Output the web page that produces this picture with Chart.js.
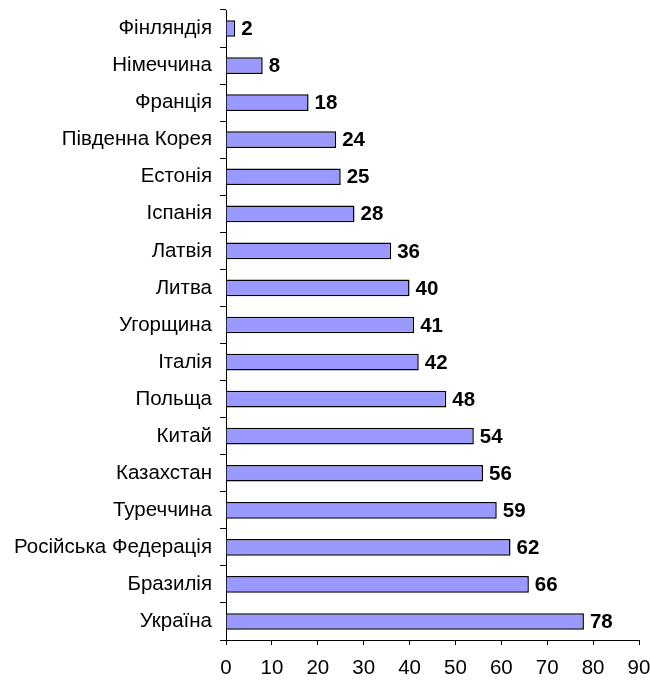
<!DOCTYPE html>
<html>
<head>
<meta charset="utf-8">
<script src="https://cdn.jsdelivr.net/npm/chart.js@4"></script>
<style>
  body { margin: 0; background: #fff; }
  #wrap { width: 650px; height: 681px; }
</style>
</head>
<body>
<div id="wrap"><canvas id="myChart"></canvas></div>
<script>
const countries = ['Фінляндія', 'Німеччина', 'Франція', 'Південна Корея', 'Естонія', 'Іспанія',
    'Латвія', 'Литва', 'Угорщина', 'Італія', 'Польща', 'Китай', 'Казахстан', 'Туреччина',
    'Російська Федерація', 'Бразилія', 'Україна'];
const values = [2, 8, 18, 24, 25, 28, 36, 40, 41, 42, 48, 54, 56, 59, 62, 66, 78];
const xTicks = [0, 10, 20, 30, 40, 50, 60, 70, 80, 90];

const fontFamily = '"Liberation Sans", Arial, sans-serif';
const fontSize = 20.5;

// bold value next to each bar
const valueLabels = {
    id: 'valueLabels',
    afterDatasetsDraw(chart) {
        const c = chart.ctx;
        const meta = chart.getDatasetMeta(0);
        c.save();
        c.font = 'bold ' + fontSize + 'px ' + fontFamily;
        c.fillStyle = '#000';
        c.textBaseline = 'middle';
        meta.data.forEach((bar, i) => {
            c.fillText(values[i], bar.x + 6, bar.y + 1);
        });
        c.restore();
    }
};

const ctx = document.getElementById('myChart');
new Chart(ctx, {
    type: 'bar',
    data: {
        labels: countries,
        datasets: [{
            data: values,
            backgroundColor: '#9999FF',
            borderColor: '#000',
            borderWidth: 1.5,
            categoryPercentage: 1,
            barPercentage: 0.45
        }]
    },
    options: {
        indexAxis: 'y',
        responsive: true,
        maintainAspectRatio: false,
        animation: false,
        layout: { padding: { top: 10, right: 0, bottom: 0, left: 0 } },
        plugins: { legend: { display: false }, tooltip: { enabled: false } },
        scales: {
            x: {
                min: 0,
                max: 90,
                afterBuildTicks(scale) { scale.ticks = xTicks.map(v => ({ value: v })); },
                afterFit(scale) {
                    scale.height = 41;
                    scale.paddingLeft = 0;
                    scale.paddingRight = 11;
                },
                grid: { drawOnChartArea: false, drawTicks: true, tickLength: 5, color: '#000' },
                border: { display: true, color: '#000', width: 1 },
                ticks: {
                    color: '#000',
                    padding: 11,
                    maxRotation: 0,
                    font: { family: fontFamily, size: fontSize }
                }
            },
            y: {
                afterFit(scale) {
                    scale.width = 226;
                    scale.paddingTop = 0;
                    scale.paddingBottom = 0;
                },
                grid: { offset: true, drawOnChartArea: false, drawTicks: true, tickLength: 6, color: '#000' },
                border: { display: true, color: '#000', width: 1 },
                ticks: {
                    color: '#000',
                    padding: 8,
                    font: { family: fontFamily, size: fontSize }
                }
            }
        }
    },
    plugins: [valueLabels]
});
</script>
</body>
</html>
